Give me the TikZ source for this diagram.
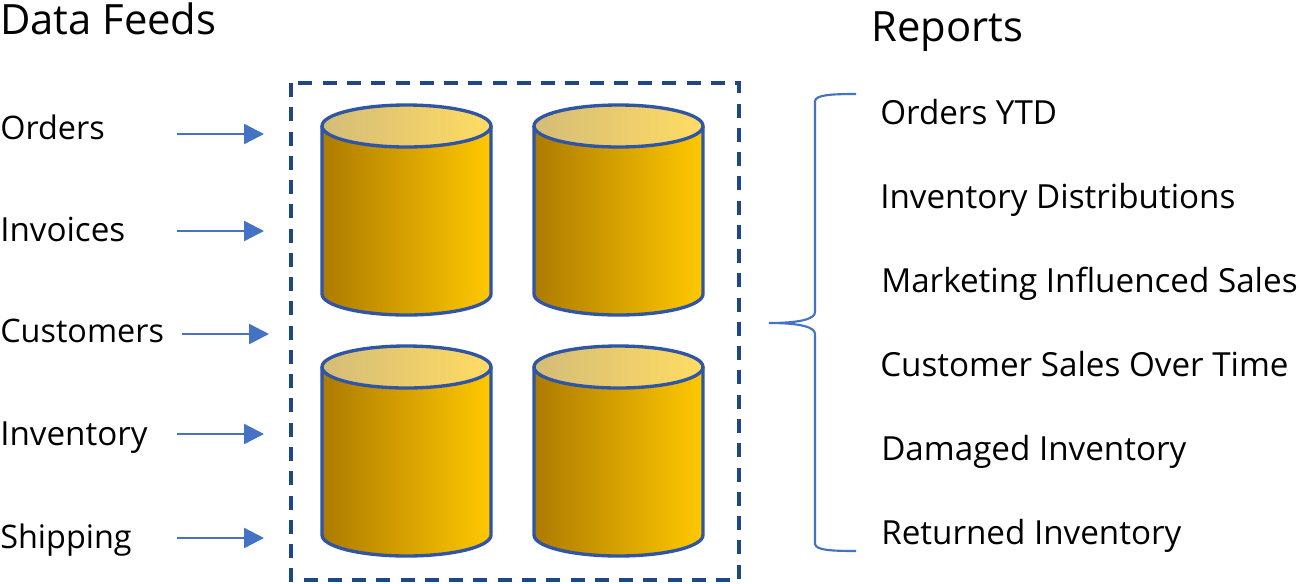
\documentclass[tikz,border=0pt]{standalone}
\usepackage{fontspec}
\setmainfont{Open Sans}
\usetikzlibrary{arrows.meta}
\definecolor{navy}{HTML}{1F4788}
\definecolor{cylline}{HTML}{2F55A4}
\definecolor{arrowblue}{HTML}{4472C4}
\definecolor{sideL}{HTML}{AD7B00}
\definecolor{sideM}{HTML}{E2A600}
\definecolor{sideR}{HTML}{FFC800}
\definecolor{topL}{HTML}{D4BC78}
\definecolor{topR}{HTML}{FFDC62}
\tikzset{
  x=0.75pt,y=-0.75pt,
  side/.style={left color=sideL,middle color=sideM,right color=sideR,draw=none},
  lid/.style={left color=topL,right color=topR,draw=none},
  rim/.style={draw=cylline,line width=2.5pt,line join=round},
  feed/.style={anchor=base west,inner sep=0pt,font=\fontsize{24.9}{28}\selectfont,text=black},
  feedtight/.style={anchor=base west,inner sep=0pt,font=\fontsize{24.3}{28}\selectfont,text=black},
  head/.style={anchor=base west,inner sep=0pt,font=\fontsize{31.3}{36}\selectfont,text=black},
  arr/.style={draw=arrowblue,line width=1.8pt,-{Triangle[length=15pt,width=15pt,fill=arrowblue]}},
  brace/.style={draw=arrowblue,line width=1.6pt},
  frame/.style={draw=navy,line width=2.4pt,dash pattern=on 10.5pt off 7.7pt},
}
\newcommand{\cyl}[2]{%
  \path[side] (#1,#2) -- (#1,#2+168) arc[start angle=180,end angle=0,x radius=84.5,y radius=21] -- (#1+169,#2) arc[start angle=0,end angle=-180,x radius=84.5,y radius=21] -- cycle;
  \path[lid] (#1+84.5,#2) ellipse[x radius=84.5,y radius=21];
  \draw[rim] (#1,#2) -- (#1,#2+168) arc[start angle=180,end angle=0,x radius=84.5,y radius=21] -- (#1+169,#2);
  \draw[rim] (#1+84.5,#2) ellipse[x radius=84.5,y radius=21];
}
\begin{document}
\begin{tikzpicture}
\useasboundingbox (0,0) rectangle (1300,583);
\fill[white] (0,0) rectangle (1300,583);
\node[head] (df) at (0,34) {Data Feeds};
\node[head] (rp) at (871,41) {Reports};
\node[feedtight] (f1) at (0,139.5) {Orders};
\node[feed] (f2) at (0,241) {Invoices};
\node[feedtight] (f3) at (0,342.5) {Customers};
\node[feed] (f4) at (0,445.5) {Inventory};
\node[feedtight] (f5) at (0,548.5) {Shipping};
\node[feed] (r1) at (880,124) {Orders YTD};
\node[feed] (r2) at (880,208.5) {Inventory Distributions};
\node[feed] (r3) at (881,292.5) {Marketing Influenced Sales};
\node[feed] (r4) at (880,376) {Customer Sales Over Time};
\node[feed] (r5) at (881,460.5) {Damaged Inventory};
\node[feed] (r6) at (881,544) {Returned Inventory};
\coordinate (a1s) at (177,134); \coordinate (a1e) at (264,134);
\coordinate (a2s) at (177,231); \coordinate (a2e) at (264,231);
\coordinate (a3s) at (182,334); \coordinate (a3e) at (269,334);
\coordinate (a4s) at (177,434); \coordinate (a4e) at (264,434);
\coordinate (a5s) at (177,538); \coordinate (a5e) at (264,538);
\draw[arr] (a1s) -- (a1e);
\draw[arr] (a2s) -- (a2e);
\draw[arr] (a3s) -- (a3e);
\draw[arr] (a4s) -- (a4e);
\draw[arr] (a5s) -- (a5e);
\draw[frame] (291,83) rectangle (739,580);
\cyl{322}{126}
\cyl{534}{126}
\cyl{322}{367}
\cyl{534}{367}
\coordinate (btop) at (856,94);
\coordinate (btip) at (769,323);
\coordinate (bbot) at (856,551);
\draw[brace] (btop) .. controls (830,94) and (816,95) .. (815,101)
  -- (815,312) .. controls (815,319) and (800,323) .. (btip)
  .. controls (800,323) and (815,327) .. (815,334)
  -- (815,544) .. controls (816,550) and (830,551) .. (bbot);
\end{tikzpicture}
\end{document}
